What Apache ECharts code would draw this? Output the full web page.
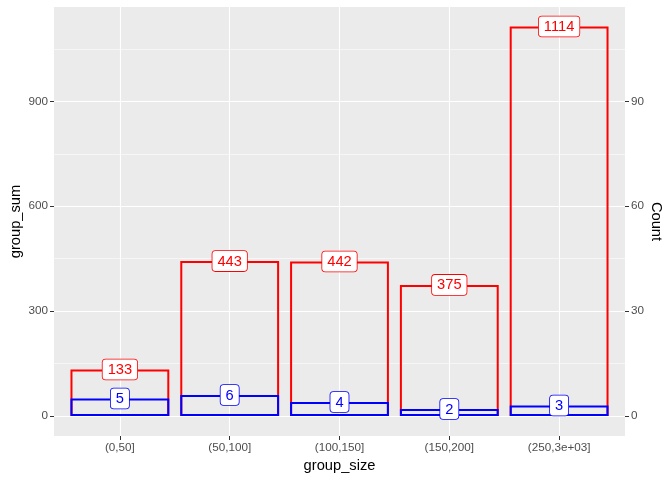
<!DOCTYPE html>
<html>
<head>
<meta charset="utf-8">
<script src="https://cdn.jsdelivr.net/npm/echarts@6/dist/echarts.min.js"></script>
<style>
  html, body { margin: 0; padding: 0; background: #fff; }
  #chart { width: 672px; height: 480px; }
</style>
</head>
<body>
<div id="chart"></div>
<script>
// categories on the x axis
const groupSize = ['(0,50]', '(50,100]', '(100,150]', '(150,200]', '(250,3e+03]'];
// red outlined bars (left axis)
const groupSum = [133, 443, 442, 375, 1114];
// blue outlined bars (right axis)
const groupCount = [5, 6, 4, 2, 3];
// tick labels
const sumTicks = [0, 300, 600, 900];
const sumMinor = [150, 450, 750, 1050];
const countTicks = [0, 30, 60, 90];

const FONT = 'Liberation Sans';
const sumMin = -57.2;
const sumMax = 1169.7;
const countScale = 10; // right axis = left axis / 10

const chart = echarts.init(document.getElementById('chart'));

function labelStyle (color) {
    return {
        show: true,
        position: 'top',
        distance: -10,
        color: color,
        fontFamily: FONT,
        fontSize: 14.7,
        lineHeight: 15,
        backgroundColor: '#ffffff',
        borderColor: color,
        borderWidth: 0.8,
        borderRadius: 3,
        padding: [3, 5, 2, 5]
    };
}

const xIndex = groupSize.map(function (c, i) { return i; });

const options = {
    animation: false,
    grid: {
        left: 54,
        right: 47,
        top: 7,
        bottom: 44,
        outerBoundsMode: 'none',
        containLabel: false,
        show: true,
        backgroundColor: '#EBEBEB',
        borderWidth: 0
    },
    xAxis: {
        type: 'value',
        min: -0.6,
        max: groupSize.length - 0.4,
        name: 'group_size',
        nameLocation: 'middle',
        nameMoveOverlap: false,
        nameGap: 22,
        nameTextStyle: { color: '#000', fontFamily: FONT, fontSize: 14.7, verticalAlign: 'top' },
        axisLine: { show: false, onZero: false },
        axisTick: { show: true, length: 4, customValues: xIndex, lineStyle: { color: '#333333', width: 1 } },
        axisLabel: {
            customValues: xIndex,
            margin: 6,
            color: '#4D4D4D',
            fontFamily: FONT,
            fontSize: 11.7,
            formatter: function (v) { return groupSize[Math.round(v)]; }
        },
        splitLine: { show: true, lineStyle: { color: '#ffffff', width: 1.1 } }
    },
    yAxis: [{
        type: 'value',
        position: 'left',
        min: sumMin,
        max: sumMax,
        name: 'group_sum',
        nameLocation: 'middle',
        nameMoveOverlap: false,
        nameGap: 31,
        nameTextStyle: { color: '#000', fontFamily: FONT, fontSize: 14.7 },
        axisLine: { show: false, onZero: false },
        axisTick: { show: true, length: 4, customValues: sumTicks, lineStyle: { color: '#333333', width: 1 } },
        axisLabel: { customValues: sumTicks, margin: 6, color: '#4D4D4D', fontFamily: FONT, fontSize: 11.7 },
        splitLine: { show: true, lineStyle: { color: '#ffffff', width: 1.1 } }
    }, {
        // minor gridlines only
        type: 'value',
        position: 'left',
        min: sumMin,
        max: sumMax,
        axisLine: { show: false, onZero: false },
        axisTick: { show: false, customValues: sumMinor },
        axisLabel: { show: false, customValues: sumMinor },
        splitLine: { show: true, lineStyle: { color: '#ffffff', width: 0.55 } }
    }, {
        type: 'value',
        position: 'right',
        min: sumMin / countScale,
        max: sumMax / countScale,
        name: 'Count',
        nameLocation: 'middle',
        nameMoveOverlap: false,
        nameRotate: -90,
        nameGap: 24,
        nameTextStyle: { color: '#000', fontFamily: FONT, fontSize: 14.7 },
        axisLine: { show: false, onZero: false },
        axisTick: { show: true, length: 4, customValues: countTicks, lineStyle: { color: '#333333', width: 1 } },
        axisLabel: { customValues: countTicks, margin: 6, color: '#4D4D4D', fontFamily: FONT, fontSize: 11.7 },
        splitLine: { show: false }
    }],
    series: [{
        name: 'group_sum',
        type: 'bar',
        yAxisIndex: 0,
        barWidth: '90%',
        barGap: '-100%',
        data: groupSum.map(function (v, i) { return [i, v]; }),
        itemStyle: { color: 'rgba(0,0,0,0)', borderColor: '#FF0000', borderWidth: 2 },
        label: labelStyle('#FF0000'),
        z: 2
    }, {
        name: 'Count',
        type: 'bar',
        yAxisIndex: 2,
        barWidth: '90%',
        barGap: '-100%',
        data: groupCount.map(function (v, i) { return [i, v]; }),
        itemStyle: { color: 'rgba(0,0,0,0)', borderColor: '#0000FF', borderWidth: 2 },
        label: labelStyle('#0000FF'),
        z: 3
    }]
};

chart.setOption(options);
</script>
</body>
</html>
